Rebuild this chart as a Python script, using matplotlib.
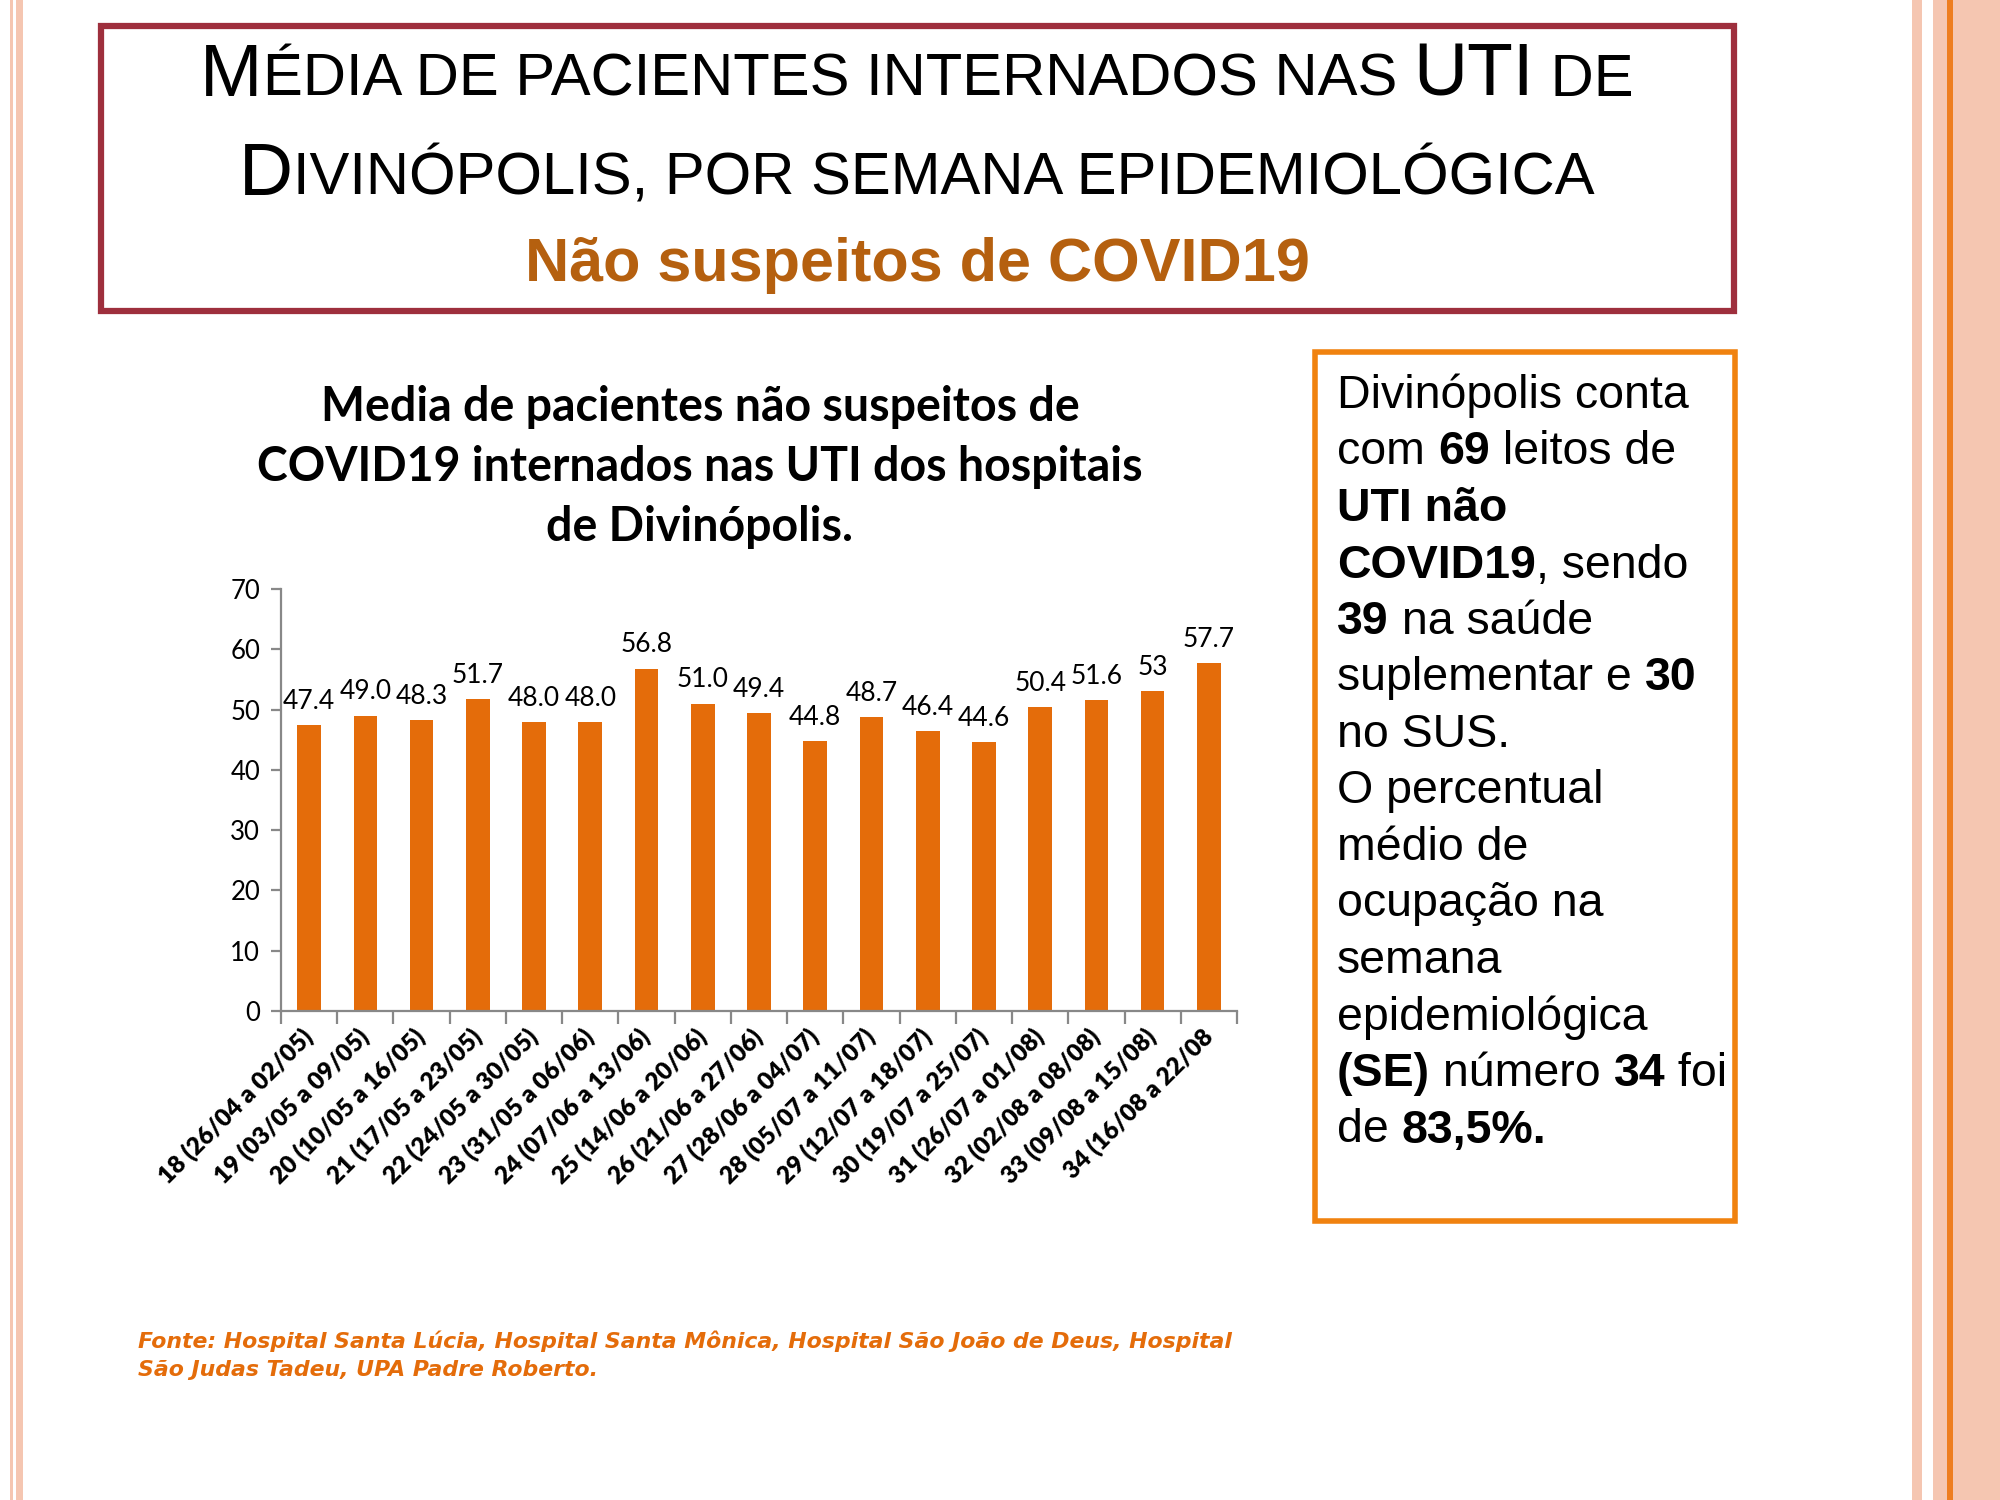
import numpy as np
import matplotlib
matplotlib.use('Agg')
import matplotlib.pyplot as plt
from matplotlib.patches import Rectangle

# dados do grafico
semanas = ['18 (26/04 a 02/05)', '19 (03/05 a 09/05)', '20 (10/05 a 16/05)',
           '21 (17/05 a 23/05)', '22 (24/05 a 30/05)', '23 (31/05 a 06/06)',
           '24 (07/06 a 13/06)', '25 (14/06 a 20/06)', '26 (21/06 a 27/06)',
           '27 (28/06 a 04/07)', '28 (05/07 a 11/07)', '29 (12/07 a 18/07)',
           '30 (19/07 a 25/07)', '31 (26/07 a 01/08)', '32 (02/08 a 08/08)',
           '33 (09/08 a 15/08)', '34 (16/08 a 22/08']
media = [47.4, 49.0, 48.3, 51.7, 48.0, 48.0, 56.8, 51.0, 49.4,
         44.8, 48.7, 46.4, 44.6, 50.4, 51.6, 53, 57.7]
rotulos = ['47.4', '49.0', '48.3', '51.7', '48.0', '48.0', '56.8', '51.0', '49.4',
           '44.8', '48.7', '46.4', '44.6', '50.4', '51.6', '53', '57.7']
yticks = [0, 10, 20, 30, 40, 50, 60, 70]

titulo_graf = ['Media de pacientes não suspeitos de',
               'COVID19 internados nas UTI dos hospitais',
               'de Divinópolis.']
fonte = ['Fonte: Hospital Santa Lúcia, Hospital Santa Mônica, Hospital São João de Deus, Hospital',
         'São Judas Tadeu, UPA Padre Roberto.']

# cores
LARANJA = '#E46C0A'
CINZA = '#888888'
ROSA = '#F5C6B1'

W, H = 2000, 1500
fig = plt.figure(figsize=(W / 100, H / 100), dpi=100)
renderer = fig.canvas.get_renderer()

def fx(x):
    return x / W

def fy(y):
    return 1 - y / H

def largura(txt, **kw):
    # largura de avanço do texto (inclui espaços)
    t = fig.text(0, 0, '|' + txt + '|', **kw)
    p = fig.text(0, 0, '||', **kw)
    w = t.get_window_extent(renderer).width - p.get_window_extent(renderer).width
    t.remove()
    p.remove()
    return w

def linha(runs, x, y, ha='left'):
    ws = [largura(t, **kw) for t, kw in runs]
    if ha == 'center':
        x = x - sum(ws) / 2
    for (t, kw), w in zip(runs, ws):
        fig.text(fx(x), fy(y), t, ha='left', va='baseline', **kw)
        x += w

def retangulo(x0, y0, x1, y1, **kw):
    fig.add_artist(Rectangle((fx(x0), fy(y1)), (x1 - x0) / W, (y1 - y0) / H,
                             transform=fig.transFigure, **kw))

# faixas laterais
retangulo(10, 0, 13, H, color=ROSA, lw=0)
retangulo(16, 0, 23, H, color=ROSA, lw=0)
retangulo(1912, 0, 1922, H, color=ROSA, lw=0)
retangulo(1933, 0, 1947, H, color=ROSA, lw=0)
retangulo(1947, 0, 1953, H, color='#EE7D1F', lw=0)
retangulo(1953, 0, W, H, color=ROSA, lw=0)

# caixa do titulo
retangulo(101, 26, 1734, 311, fill=False, edgecolor='#9E2F3D', lw=4.5)
ARIAL = 'Liberation Sans'
G = dict(family=ARIAL, fontsize=54, color='black')
P = dict(family=ARIAL, fontsize=43, color='black')
linha([('M', G), ('ÉDIA DE PACIENTES INTERNADOS NAS ', P), ('UTI', G), (' DE', P)],
      917, 96, ha='center')
linha([('D', G), ('IVINÓPOLIS, POR SEMANA EPIDEMIOLÓGICA', P)], 917, 195, ha='center')
fig.text(fx(917), fy(281), 'Não suspeitos de COVID19', ha='center', va='baseline',
         family=ARIAL, fontsize=44, fontweight='bold', color='#B5600F')

# caixa de texto a direita
retangulo(1315, 352, 1735, 1221, fill=False, edgecolor='#F0820F', lw=4)
R = dict(family=ARIAL, fontsize=33.5, color='black')
B = dict(family=ARIAL, fontsize=33.5, color='black', fontweight='bold')
texto_caixa = [
    [('Divinópolis conta', R)],
    [('com ', R), ('69', B), (' leitos de', R)],
    [('UTI não', B)],
    [('COVID19', B), (', sendo', R)],
    [('39', B), (' na saúde', R)],
    [('suplementar e ', R), ('30', B)],
    [('no SUS.', R)],
    [('O percentual', R)],
    [('médio de', R)],
    [('ocupação na', R)],
    [('semana', R)],
    [('epidemiológica', R)],
    [('(SE)', B), (' número ', R), ('34', B), (' foi', R)],
    [('de ', R), ('83,5%.', B)],
]
for i, runs in enumerate(texto_caixa):
    linha(runs, 1337, 408 + i * 56.5)

# titulo do grafico
for i, t in enumerate(titulo_graf):
    fig.text(fx(700), fy(421 + i * 60), t, ha='center', va='baseline',
             family='Lato', fontweight='bold', fontsize=33.5, color='black')

# grafico de barras
ax = fig.add_axes([fx(281), fy(1011), (1237 - 281) / W, (1011 - 589) / H])
x = np.arange(len(semanas))
ax.bar(x, media, width=0.42, color=LARANJA, zorder=2)
ax.set_xlim(-0.5, len(semanas) - 0.5)
ax.set_ylim(0, 70)
for s in ['top', 'right']:
    ax.spines[s].set_visible(False)
for s in ['left', 'bottom']:
    ax.spines[s].set_color(CINZA)
    ax.spines[s].set_linewidth(1.6)

ax.set_yticks(yticks)
ax.set_yticklabels([str(v) for v in yticks], family='Lato', fontsize=18.5)
ax.tick_params(axis='y', length=7, width=1.6, color=CINZA, pad=8)

ax.set_xticks(x)
ax.set_xticklabels(semanas, rotation=45, ha='right', va='center',
                   rotation_mode='anchor', family='Lato', fontweight='heavy', fontsize=17.5)
ax.tick_params(axis='x', which='major', length=0, pad=16)
ax.set_xticks(np.arange(-0.5, len(semanas), 1), minor=True)
ax.tick_params(axis='x', which='minor', length=9, width=1.6, color=CINZA)

for xi, v, s in zip(x, media, rotulos):
    ax.annotate(s, (xi, v), xytext=(0, 8), textcoords='offset points',
                ha='center', va='bottom', family='Lato', fontsize=19)

# fonte
for i, t in enumerate(fonte):
    fig.text(fx(138), fy(1348 + i * 28), t, ha='left', va='baseline',
             family='DejaVu Sans', fontweight='bold', style='italic',
             fontsize=15.8, color=LARANJA)

fig.savefig('out.png', dpi=100)
